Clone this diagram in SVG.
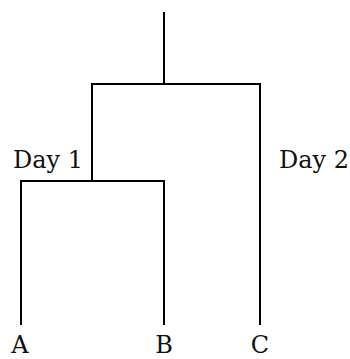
<svg xmlns="http://www.w3.org/2000/svg" width="350" height="359" viewBox="0 0 350 359">
<style>
.ln{stroke:#000;stroke-width:2;fill:none;stroke-linecap:butt}
.t{font-family:"DejaVu Serif","Liberation Serif",serif;font-size:24px;fill:#111}
</style>
<rect width="350" height="359" fill="#fff"/>
<g id="connectors">
<path class="ln" d="M164 12V84"/>
<path class="ln" d="M91 84H261"/>
<path class="ln" d="M92 84V181"/>
<path class="ln" d="M260 84V325"/>
<path class="ln" d="M20 181H165"/>
<path class="ln" d="M21 181V325"/>
<path class="ln" d="M164 181V325"/>
</g>
<g id="day1"><text class="t" x="13" y="168">Day 1</text></g>
<g id="day2"><text class="t" x="279" y="168">Day 2</text></g>
<g id="A"><text class="t" x="20" y="353" text-anchor="middle">A</text></g>
<g id="B"><text class="t" x="164" y="353" text-anchor="middle">B</text></g>
<g id="C"><text class="t" x="260" y="353" text-anchor="middle">C</text></g>
</svg>
